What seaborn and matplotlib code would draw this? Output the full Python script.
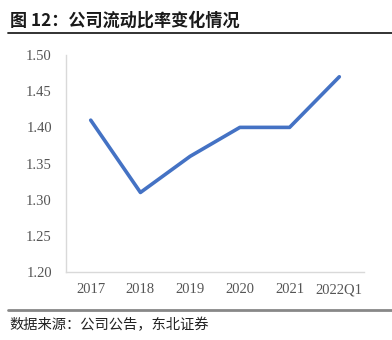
import matplotlib
matplotlib.use("Agg")
import matplotlib.pyplot as plt
from matplotlib.lines import Line2D
import seaborn as sns
import pandas as pd

periods = ["2017", "2018", "2019", "2020", "2021", "2022Q1"]
current_ratio = [1.41, 1.31, 1.36, 1.40, 1.40, 1.47]
y_ticks = [1.20, 1.25, 1.30, 1.35, 1.40, 1.45, 1.50]

sns.set_theme(style="white")
plt.rcParams["font.family"] = ["Noto Sans CJK SC", "DejaVu Sans"]

df = pd.DataFrame({"period": periods, "ratio": current_ratio})

fig = plt.figure(figsize=(3.92, 3.40), dpi=100)
ax = fig.add_axes([0.168, 0.2, 0.761, 0.638])

sns.lineplot(data=df, x="period", y="ratio", ax=ax, color="#4472C4",
             linewidth=2.6, sort=False)

ax.set_ylim(1.20, 1.50)
ax.set_yticks(y_ticks)
ax.set_yticklabels([f"{v:.2f}" for v in y_ticks])
ax.set_xlim(-0.5, len(periods) - 0.5)
ax.set_xlabel("")
ax.set_ylabel("")
for lab in ax.get_xticklabels() + ax.get_yticklabels():
    lab.set_family(["Liberation Serif", "DejaVu Serif"])
    lab.set_fontsize(10.5)
    lab.set_color("#555555")
ax.tick_params(axis="both", length=0, pad=8)
ax.tick_params(axis="y", pad=10)

for side in ["top", "right"]:
    ax.spines[side].set_visible(False)
for side in ["left", "bottom"]:
    ax.spines[side].set_color("#D9D9D9")
    ax.spines[side].set_linewidth(1.0)

# header and footer
fig.text(0.025, 0.94, "图 12：公司流动比率变化情况", fontsize=12.3, fontweight="bold",
         color="#1a1a1a", ha="left", va="center")
fig.add_artist(Line2D([0.02, 1.0], [0.903, 0.903], color="#222222", linewidth=1.3,
                      transform=fig.transFigure))
fig.add_artist(Line2D([0.02, 1.0], [0.088, 0.088], color="#888888", linewidth=2.0,
                      transform=fig.transFigure))
fig.text(0.025, 0.043, "数据来源：公司公告，东北证券", fontsize=10.3, color="#222222",
         ha="left", va="center")

fig.savefig("out.png", dpi=100)
